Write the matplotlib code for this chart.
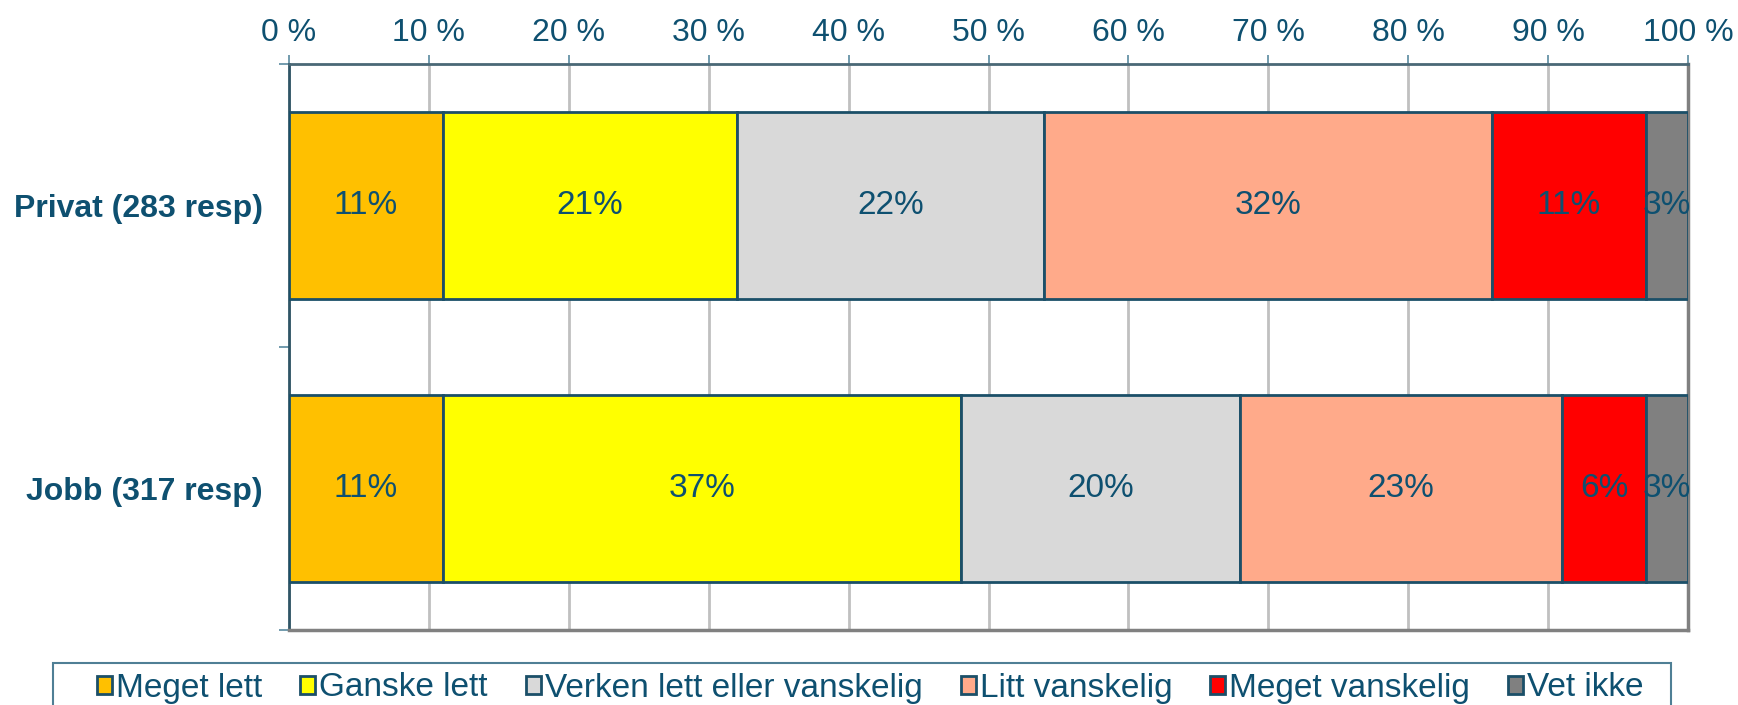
import numpy as np
import matplotlib.pyplot as plt
from matplotlib import font_manager
from matplotlib.patches import Patch, Rectangle

# categories (bottom to top on the axis)
categories = ['Jobb (317 resp)', 'Privat (283 resp)']

series_names = ['Meget lett', 'Ganske lett', 'Verken lett eller vanskelig',
                'Litt vanskelig', 'Meget vanskelig', 'Vet ikke']

# values per category, same order as categories
meget_lett = [11, 11]
ganske_lett = [37, 21]
verken = [20, 22]
litt_vanskelig = [23, 32]
meget_vanskelig = [6, 11]
vet_ikke = [3, 3]

values = [meget_lett, ganske_lett, verken, litt_vanskelig, meget_vanskelig, vet_ikke]

colors = ['#FFC000', '#FFFF00', '#D9D9D9', '#FFAA8A', '#FF0000', '#808080']
edge = '#1B4F68'
text_col = '#0E5070'

xticks = np.arange(0, 101, 10)
xticklabels = ['%d %%' % v for v in xticks]

plt.rcParams['font.family'] = ['Liberation Sans', 'DejaVu Sans']

# legend uses a condensed face if there is one
try:
    font_manager.findfont('Liberation Sans Narrow', fallback_to_default=False)
    leg_family = ['Liberation Sans Narrow']
    leg_size = 26
except ValueError:
    leg_family = ['Liberation Sans']
    leg_size = 24

fig = plt.figure(figsize=(17.38, 7.05), dpi=100)
ax = fig.add_axes([289 / 1738, 1 - 630 / 705, (1688 - 289) / 1738, (630 - 64) / 705])

y = np.arange(len(categories))
left = np.zeros(len(categories))
for i, name in enumerate(series_names):
    w = np.array(values[i], dtype=float)
    ax.barh(y, w, left=left, height=0.66, color=colors[i], edgecolor=edge,
            linewidth=2, zorder=3)
    for j in range(len(categories)):
        ax.text(left[j] + w[j] / 2, y[j], '%d%%' % values[i][j], ha='center',
                va='center', fontsize=24, color=text_col, zorder=4)
    left += w

ax.set_xlim(0, 100)
ax.set_ylim(-0.5, 1.5)
ax.xaxis.tick_top()
ax.set_xticks(xticks)
ax.set_xticklabels(xticklabels, fontsize=23, color=text_col)
ax.tick_params(axis='x', direction='out', length=6.5, width=1.2, color='#5a8aa0', pad=5)
ax.grid(axis='x', color='#C0C0C0', linewidth=2, zorder=0)

ax.set_yticks(y)
ax.set_yticklabels(categories, fontsize=23, fontweight='bold', color=text_col)
ax.tick_params(axis='y', which='major', length=0, pad=19)
ax.set_yticks([-0.5, 0.5, 1.5], minor=True)
ax.tick_params(axis='y', which='minor', length=7, width=1.2, color='#5a8aa0')

ax.spines['left'].set_color('#2F5566')
ax.spines['left'].set_linewidth(2)
ax.spines['top'].set_color('#4A6876')
ax.spines['top'].set_linewidth(2)
ax.spines['right'].set_color('#808080')
ax.spines['right'].set_linewidth(2.5)
ax.spines['bottom'].set_color('#808080')
ax.spines['bottom'].set_linewidth(2.5)

# legend frame runs off the bottom of the figure
frame = Rectangle((53 / 1738, -0.05), (1671 - 53) / 1738, 0.05 + 1 - 663 / 705,
                  transform=fig.transFigure, facecolor='none', edgecolor='#4F7F95',
                  linewidth=1.5)
fig.add_artist(frame)

leg_px = leg_size * 100 / 72.0
handles = [Patch(facecolor=c, edgecolor=edge, linewidth=2) for c in colors]
leg = fig.legend(handles, series_names, loc='center left',
                 bbox_to_anchor=(97 / 1738, 1 - 688 / 705), ncol=6,
                 frameon=False, handlelength=15 / leg_px, handleheight=15 / leg_px,
                 handletextpad=4 / leg_px, columnspacing=38 / leg_px,
                 borderpad=0, borderaxespad=0,
                 prop={'family': leg_family, 'size': leg_size})
for t in leg.get_texts():
    t.set_color(text_col)

fig.savefig('out.png', dpi=100)
